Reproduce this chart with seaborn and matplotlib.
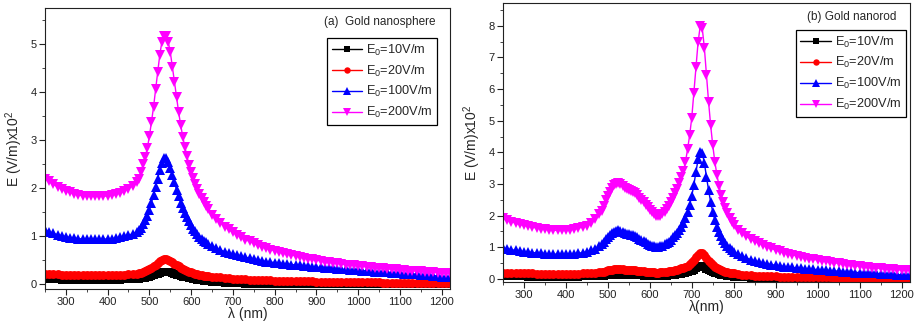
import numpy as np
import pandas as pd
import matplotlib
matplotlib.use("Agg")
import matplotlib.pyplot as plt
from matplotlib.ticker import MultipleLocator
import seaborn as sns

# ---------------- data ----------------
# wavelength grids (nm): finer sampling around the resonances
lam_a = np.r_[np.arange(250, 480, 10), np.arange(475, 645, 5), np.arange(650, 1230, 10)]
lam_b = np.r_[np.arange(250, 490, 10), np.arange(485, 805, 5), np.arange(810, 1230, 10)]

series_labels = ["E$_0$=10V/m", "E$_0$=20V/m", "E$_0$=100V/m", "E$_0$=200V/m"]
series_colors = ["#000000", "#ff0000", "#0000ff", "#ff00ff"]
series_markers = ["s", "o", "^", "v"]
series_msize = [5.8, 6.4, 7.2, 7.2]

# (a) gold nanosphere, field in units of 1e2 V/m
sphere_10 = [
    0.11, 0.105, 0.10, 0.10, 0.095, 0.095, 0.09, 0.09, 0.09, 0.09,
    0.09, 0.09, 0.09, 0.09, 0.09, 0.09, 0.09, 0.09, 0.095, 0.10,
    0.10, 0.105, 0.11,
    0.115, 0.12, 0.125, 0.135, 0.145, 0.155, 0.17, 0.185, 0.205, 0.22,
    0.24, 0.25, 0.26, 0.26, 0.255, 0.245, 0.23, 0.215, 0.20, 0.185,
    0.17, 0.16, 0.15, 0.14, 0.13, 0.12, 0.11, 0.10, 0.09, 0.085,
    0.08, 0.075, 0.07, 0.065,
    0.055, 0.047, 0.04, 0.034, 0.028, 0.023, 0.019, 0.016, 0.013, 0.011,
    0.01, 0.009, 0.008, 0.007, 0.006, 0.006, 0.005, 0.005, 0.004, 0.004,
    0.004, 0.004, 0.004, 0.003, 0.003, 0.003, 0.003, 0.003, 0.003, 0.003,
    0.003, 0.002, 0.002, 0.002, 0.002, 0.002, 0.002, 0.002, 0.002, 0.002,
    0.002, 0.002, 0.002, 0.001, 0.001, 0.001, 0.001, 0.001, 0.001, 0.001,
    0.001, 0.001, 0.001, 0.001, 0.001, 0.001, 0.001, 0.001,
]
sphere_20 = [
    0.22, 0.215, 0.21, 0.205, 0.20, 0.20, 0.195, 0.19, 0.19, 0.19,
    0.19, 0.19, 0.19, 0.19, 0.19, 0.19, 0.19, 0.195, 0.20, 0.20,
    0.21, 0.21, 0.22,
    0.23, 0.24, 0.25, 0.27, 0.29, 0.31, 0.34, 0.37, 0.41, 0.44,
    0.48, 0.50, 0.52, 0.52, 0.51, 0.49, 0.46, 0.43, 0.40, 0.37,
    0.34, 0.32, 0.30, 0.28, 0.26, 0.25, 0.24, 0.22, 0.21, 0.20,
    0.19, 0.18, 0.175, 0.17,
    0.16, 0.15, 0.14, 0.13, 0.12, 0.115, 0.11, 0.105, 0.10, 0.095,
    0.09, 0.088, 0.085, 0.082, 0.08, 0.077, 0.075, 0.072, 0.07, 0.068,
    0.066, 0.064, 0.062, 0.06, 0.058, 0.056, 0.054, 0.052, 0.05, 0.049,
    0.048, 0.046, 0.045, 0.044, 0.042, 0.041, 0.04, 0.039, 0.038, 0.037,
    0.036, 0.035, 0.034, 0.033, 0.032, 0.031, 0.030, 0.030, 0.029, 0.028,
    0.028, 0.027, 0.026, 0.026, 0.025, 0.025, 0.024, 0.024,
]
sphere_100 = [
    1.12, 1.09, 1.06, 1.03, 1.01, 0.99, 0.97, 0.96, 0.95, 0.94,
    0.94, 0.94, 0.94, 0.94, 0.94, 0.94, 0.95, 0.96, 0.98, 1.00,
    1.02, 1.05, 1.09,
    1.13, 1.18, 1.25, 1.33, 1.43, 1.55, 1.70, 1.86, 2.03, 2.20,
    2.38, 2.53, 2.62, 2.62, 2.54, 2.43, 2.28, 2.12, 1.97, 1.83,
    1.70, 1.58, 1.48, 1.39, 1.31, 1.23, 1.16, 1.10, 1.04, 0.99,
    0.95, 0.91, 0.87, 0.84,
    0.79, 0.75, 0.71, 0.68, 0.65, 0.62, 0.60, 0.58, 0.56, 0.54,
    0.52, 0.50, 0.49, 0.47, 0.46, 0.45, 0.44, 0.43, 0.42, 0.41,
    0.40, 0.39, 0.38, 0.37, 0.36, 0.35, 0.35, 0.34, 0.33, 0.33,
    0.32, 0.31, 0.31, 0.30, 0.29, 0.29, 0.28, 0.28, 0.27, 0.26,
    0.26, 0.25, 0.25, 0.24, 0.24, 0.23, 0.22, 0.22, 0.21, 0.21,
    0.20, 0.19, 0.19, 0.18, 0.17, 0.16, 0.15, 0.14,
]
sphere_200 = [
    2.20, 2.14, 2.08, 2.03, 1.99, 1.95, 1.91, 1.88, 1.86, 1.84,
    1.83, 1.83, 1.83, 1.83, 1.83, 1.84, 1.85, 1.87, 1.90, 1.94,
    1.99, 2.05, 2.12,
    2.20, 2.34, 2.50, 2.65, 2.83, 3.08, 3.38, 3.69, 4.06, 4.42,
    4.78, 5.05, 5.16, 5.16, 5.05, 4.84, 4.53, 4.22, 3.90, 3.59,
    3.31, 3.07, 2.86, 2.66, 2.49, 2.34, 2.21, 2.09, 1.98, 1.88,
    1.79, 1.71, 1.63, 1.56,
    1.45, 1.36, 1.28, 1.20, 1.14, 1.08, 1.03, 0.98, 0.93, 0.89,
    0.85, 0.81, 0.78, 0.75, 0.72, 0.70, 0.67, 0.65, 0.63, 0.61,
    0.59, 0.57, 0.55, 0.53, 0.52, 0.50, 0.49, 0.47, 0.46, 0.45,
    0.44, 0.42, 0.41, 0.40, 0.39, 0.38, 0.37, 0.36, 0.35, 0.34,
    0.34, 0.33, 0.32, 0.31, 0.31, 0.30, 0.29, 0.28, 0.28, 0.27,
    0.27, 0.26, 0.25, 0.25, 0.24, 0.24, 0.23, 0.23,
]

# (b) gold nanorod
rod_10 = [
    0.09, 0.085, 0.08, 0.08, 0.075, 0.075, 0.07, 0.07, 0.07, 0.07,
    0.07, 0.07, 0.07, 0.07, 0.07, 0.07, 0.07, 0.07, 0.07, 0.075,
    0.075, 0.08, 0.085, 0.095,
    0.10, 0.105, 0.11, 0.12, 0.125, 0.13, 0.135, 0.135, 0.14, 0.135,
    0.135, 0.13, 0.13, 0.125, 0.125, 0.12, 0.12, 0.115, 0.11, 0.11,
    0.105, 0.10, 0.10, 0.095, 0.09, 0.09, 0.09, 0.09, 0.09, 0.095,
    0.10, 0.105, 0.11, 0.12, 0.125, 0.135, 0.145, 0.155, 0.165, 0.175,
    0.19, 0.21, 0.235, 0.26, 0.295, 0.34, 0.38, 0.41, 0.405, 0.37,
    0.325, 0.285, 0.245, 0.215, 0.19, 0.17, 0.15, 0.135, 0.12, 0.11,
    0.10, 0.09, 0.08, 0.07,
    0.06, 0.05, 0.043, 0.036, 0.03, 0.025, 0.021, 0.018, 0.015, 0.013,
    0.011, 0.01, 0.009, 0.008, 0.007, 0.006, 0.006, 0.005, 0.005, 0.004,
    0.004, 0.004, 0.003, 0.003, 0.003, 0.003, 0.002, 0.002, 0.002, 0.002,
    0.002, 0.002, 0.001, 0.001, 0.001, 0.001, 0.001, 0.001, 0.001, 0.001,
    0.001, 0.001,
]
rod_20 = [
    0.20, 0.195, 0.19, 0.185, 0.18, 0.175, 0.17, 0.17, 0.165, 0.165,
    0.16, 0.16, 0.16, 0.16, 0.16, 0.16, 0.16, 0.16, 0.165, 0.17,
    0.175, 0.18, 0.19, 0.21,
    0.22, 0.23, 0.25, 0.27, 0.28, 0.29, 0.30, 0.30, 0.31, 0.30,
    0.30, 0.29, 0.29, 0.28, 0.28, 0.28, 0.27, 0.26, 0.25, 0.25,
    0.24, 0.23, 0.22, 0.22, 0.21, 0.21, 0.20, 0.20, 0.21, 0.21,
    0.22, 0.23, 0.24, 0.25, 0.26, 0.28, 0.29, 0.31, 0.33, 0.35,
    0.38, 0.42, 0.47, 0.52, 0.59, 0.68, 0.76, 0.82, 0.81, 0.74,
    0.65, 0.57, 0.49, 0.43, 0.38, 0.34, 0.30, 0.27, 0.25, 0.23,
    0.21, 0.20, 0.19, 0.18,
    0.14, 0.13, 0.12, 0.11, 0.10, 0.095, 0.09, 0.085, 0.08, 0.075,
    0.07, 0.068, 0.065, 0.062, 0.06, 0.057, 0.055, 0.053, 0.051, 0.049,
    0.047, 0.045, 0.044, 0.042, 0.041, 0.039, 0.038, 0.037, 0.035, 0.034,
    0.033, 0.032, 0.031, 0.030, 0.029, 0.028, 0.027, 0.026, 0.025, 0.024,
    0.023, 0.022,
]
rod_100 = [
    0.97, 0.95, 0.92, 0.90, 0.88, 0.86, 0.85, 0.83, 0.82, 0.81,
    0.80, 0.79, 0.78, 0.78, 0.78, 0.78, 0.79, 0.80, 0.81, 0.83,
    0.86, 0.90, 0.95, 1.03,
    1.09, 1.16, 1.25, 1.33, 1.40, 1.45, 1.49, 1.52, 1.53, 1.51,
    1.48, 1.45, 1.43, 1.41, 1.40, 1.38, 1.35, 1.31, 1.27, 1.23,
    1.19, 1.15, 1.11, 1.08, 1.05, 1.03, 1.02, 1.02, 1.03, 1.05,
    1.09, 1.13, 1.18, 1.24, 1.31, 1.38, 1.46, 1.55, 1.65, 1.77,
    1.91, 2.10, 2.34, 2.62, 2.98, 3.38, 3.78, 4.02, 3.98, 3.66,
    3.22, 2.80, 2.43, 2.12, 1.86, 1.65, 1.48, 1.34, 1.22, 1.12,
    1.04, 0.97, 0.91, 0.86,
    0.78, 0.71, 0.66, 0.61, 0.57, 0.53, 0.50, 0.47, 0.45, 0.43,
    0.41, 0.39, 0.37, 0.36, 0.34, 0.33, 0.32, 0.31, 0.30, 0.29,
    0.28, 0.27, 0.26, 0.25, 0.24, 0.23, 0.22, 0.21, 0.20, 0.20,
    0.19, 0.18, 0.17, 0.17, 0.16, 0.15, 0.15, 0.14, 0.13, 0.13,
    0.12, 0.12,
]
rod_200 = [
    1.91, 1.86, 1.81, 1.76, 1.72, 1.69, 1.66, 1.63, 1.61, 1.59,
    1.57, 1.55, 1.54, 1.53, 1.53, 1.53, 1.55, 1.57, 1.60, 1.64,
    1.68, 1.76, 1.88, 2.05,
    2.16, 2.30, 2.48, 2.62, 2.75, 2.87, 2.96, 3.01, 3.02, 2.99,
    2.93, 2.88, 2.84, 2.80, 2.78, 2.75, 2.70, 2.64, 2.56, 2.49,
    2.42, 2.34, 2.26, 2.18, 2.10, 2.04, 2.00, 1.98, 1.99, 2.04,
    2.11, 2.20, 2.30, 2.42, 2.55, 2.70, 2.85, 3.02, 3.22, 3.42,
    3.70, 4.10, 4.55, 5.10, 5.88, 6.70, 7.48, 7.98, 7.92, 7.30,
    6.45, 5.60, 4.85, 4.22, 3.70, 3.28, 2.94, 2.66, 2.43, 2.24,
    2.07, 1.93, 1.81, 1.70,
    1.56, 1.44, 1.34, 1.26, 1.19, 1.12, 1.06, 1.01, 0.96, 0.91,
    0.87, 0.83, 0.80, 0.76, 0.73, 0.70, 0.67, 0.64, 0.62, 0.59,
    0.57, 0.55, 0.53, 0.51, 0.49, 0.47, 0.45, 0.43, 0.41, 0.40,
    0.38, 0.37, 0.35, 0.34, 0.33, 0.32, 0.31, 0.30, 0.29, 0.28,
    0.27, 0.27,
]

x_ticks = [300, 400, 500, 600, 700, 800, 900, 1000, 1100, 1200]

# ---------------- style ----------------
sns.set_theme(style="ticks")
plt.rcParams["font.family"] = ["Liberation Sans", "DejaVu Sans"]
plt.rcParams["mathtext.fontset"] = "custom"
plt.rcParams["mathtext.rm"] = "Liberation Sans"
plt.rcParams["mathtext.it"] = "Liberation Sans"
plt.rcParams["axes.linewidth"] = 0.8

fig = plt.figure(figsize=(9.16, 3.24), dpi=100)
ax_a = fig.add_axes([0.0491, 0.108, 0.4422, 0.867])
ax_b = fig.add_axes([0.5491, 0.1296, 0.4443, 0.8611])


def draw_panel(ax, lam, curves, ylim, ymajor, title, title_xy, legend_anchor, xlabel):
    for vals, lab, col, mk, ms in zip(curves, series_labels, series_colors,
                                      series_markers, series_msize):
        sns.lineplot(x=lam, y=np.asarray(vals), ax=ax, color=col, marker=mk,
                     markersize=ms, markeredgewidth=0, linewidth=1.0,
                     label=lab, estimator=None, sort=False)
    ax.set_xlim(250, 1220)
    ax.set_ylim(*ylim)
    ax.set_xticks(x_ticks)
    ax.set_yticks(ymajor)
    ax.xaxis.set_minor_locator(MultipleLocator(50))
    ax.yaxis.set_minor_locator(MultipleLocator(0.5))
    ax.tick_params(which="major", direction="out", length=4, width=0.8,
                   labelsize=8, pad=2, colors="#222222")
    ax.tick_params(which="minor", direction="out", length=2, width=0.6)
    for s in ax.spines.values():
        s.set_visible(True)
        s.set_color("#222222")
    ax.set_xlabel(xlabel, fontsize=10, labelpad=0)
    ax.set_ylabel("E (V/m)x10$^2$", fontsize=10, labelpad=4)
    ax.text(title_xy[0], title_xy[1], title, transform=ax.transAxes,
            ha="right", va="center", fontsize=8.5)
    leg = ax.legend(loc="upper right", bbox_to_anchor=legend_anchor,
                    fontsize=9.2, frameon=True, fancybox=False,
                    edgecolor="black", framealpha=1, borderpad=0.35,
                    labelspacing=0.45, handlelength=2.4, handletextpad=0.3,
                    borderaxespad=0, markerscale=0.72)
    leg.get_frame().set_linewidth(0.9)


draw_panel(ax_a, lam_a, [sphere_10, sphere_20, sphere_100, sphere_200],
           (-0.1, 5.75), [0, 1, 2, 3, 4, 5], "(a)  Gold nanosphere",
           (0.963, 0.95), (0.968, 0.893), "\u03bb (nm)")
draw_panel(ax_b, lam_b, [rod_10, rod_20, rod_100, rod_200],
           (-0.1, 8.72), [0, 1, 2, 3, 4, 5, 6, 7, 8], "(b) Gold nanorod",
           (0.966, 0.95), (0.99, 0.903), "\u03bb(nm)")

fig.savefig("out.png", dpi=100)
